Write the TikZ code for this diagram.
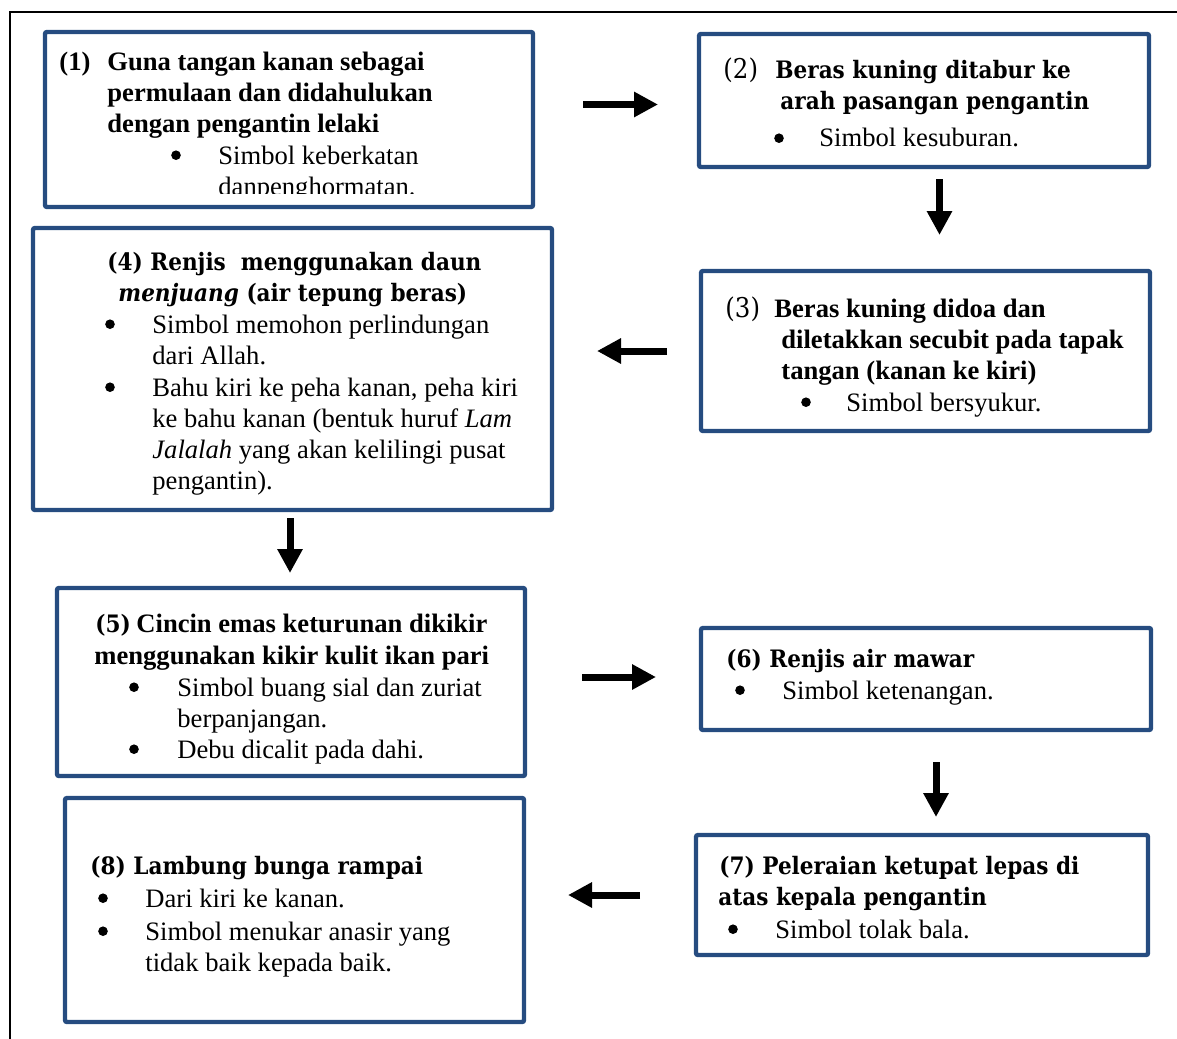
\documentclass[tikz,border=0pt]{standalone}
\usepackage{fontspec}
\setmainfont{Liberation Serif}
\newfontfamily\camb{DejaVu Serif Condensed}
\usetikzlibrary{arrows.meta,fit}
\definecolor{boxblue}{RGB}{38,76,128}
\begin{document}
\begin{tikzpicture}[x=0.5pt,y=-0.5pt,
 box/.style={draw=boxblue,line width=2.2pt,rounded corners=1pt,inner sep=0pt},
 tx/.style={anchor=base west,inner sep=0pt,font=\fontsize{13.3}{15}\selectfont},
 tb/.style={anchor=base west,inner sep=0pt,font=\fontsize{13.3}{15}\selectfont\bfseries},
 cb/.style={anchor=base west,inner sep=0pt,font=\fontsize{12}{15}\selectfont\camb\bfseries},
 cr/.style={anchor=base west,inner sep=0pt,font=\fontsize{13.6}{15}\selectfont\camb},
 bul/.style={circle,fill=black,inner sep=0pt,minimum size=4.8pt,yshift=4.4pt},
 arr/.style={line width=3.5pt,-{Triangle[length=12pt,width=12pt]}},
 frame/.style={line width=1pt}]
\useasboundingbox (0,0) rectangle (1177,1038);
% outer frame
\coordinate (fa) at (10,1040);
\coordinate (fb) at (10,12);
\coordinate (fc) at (1180,12);
\draw[frame] (fa) -- (fb) -- (fc);
% boxes
\node[box,fit={(45,32) (533,207)}] (b1) {};
\node[box,fit={(699,34) (1149,167)}] (b2) {};
\node[box,fit={(701,271) (1150,431)}] (b3) {};
\node[box,fit={(33,228) (552,510)}] (b4) {};
\node[box,fit={(57,588) (525,776)}] (b5) {};
\node[box,fit={(701,628) (1151,730)}] (b6) {};
\node[box,fit={(696,835) (1148,955)}] (b7) {};
\node[box,fit={(65,798) (524,1022)}] (b8) {};
% box 1 text
\begin{scope}
\clip (45,32) rectangle (533,193.5);
\node[tb] (t1n) at (59,71) {(1)};
\node[tb] (t1a) at (107,71) {Guna tangan kanan sebagai};
\node[tb] (t1b) at (107,102) {permulaan dan didahulukan};
\node[tb] (t1c) at (107,133) {dengan pengantin lelaki};
\node[bul] (t1d) at (176,164) {};
\node[tx] (t1e) at (218,164) {Simbol keberkatan};
\node[tx] (t1f) at (218,195) {danpenghormatan.};
\end{scope}
% box 2 text
\node[cr] (t2n) at (723,79) {(2)};
\node[cb] (t2a) at (775,79) {Beras kuning ditabur ke};
\node[cb] (t2b) at (780,110) {arah pasangan pengantin};
\node[bul] (t2c) at (779,147) {};
\node[tx] (t2d) at (819,147) {Simbol kesuburan.};
% box 3 text
\node[cr] (t3n) at (725,317) {(3)};
\node[tb] (t3a) at (774,317) {Beras kuning didoa dan};
\node[tb] (t3b) at (781,348) {diletakkan secubit pada tapak};
\node[tb] (t3c) at (781,379) {tangan (kanan ke kiri)};
\node[bul] (t3d) at (806,411) {};
\node[tx] (t3e) at (846,411) {Simbol bersyukur.};
% box 4 text
\node[cb] (t4a) at (107,270) {(4) Renjis\ \ menggunakan daun};
\node[cb] (t4b) at (118,301) {{\itshape menjuang} (air tepung beras)};
\node[bul] (t4c) at (110,333) {};
\node[tx] (t4d) at (152,333) {Simbol memohon perlindungan};
\node[tx] (t4e) at (152,364) {dari Allah.};
\node[bul] (t4f) at (110,396) {};
\node[tx] (t4g) at (152,396) {Bahu kiri ke peha kanan, peha kiri};
\node[tx] (t4h) at (152,427) {ke bahu kanan (bentuk huruf \textit{Lam}};
\node[tx] (t4i) at (152,458) {\textit{Jalalah} yang akan kelilingi pusat};
\node[tx] (t4j) at (152,489) {pengantin).};
% box 5 text
\node[cb] (t5n) at (95,632) {(5)};
\node[tb] (t5a) at (136,632) {Cincin emas keturunan dikikir};
\node[tb] (t5b) at (94,664) {menggunakan kikir kulit ikan pari};
\node[bul] (t5c) at (134,696) {};
\node[tx] (t5d) at (177,696) {Simbol buang sial dan zuriat};
\node[tx] (t5e) at (177,727) {berpanjangan.};
\node[bul] (t5f) at (134,758) {};
\node[tx] (t5g) at (177,758) {Debu dicalit pada dahi.};
% box 6 text
\node[cb] (t6a) at (726,667) {(6) Renjis air mawar};
\node[bul] (t6b) at (740,699) {};
\node[tx] (t6c) at (782,699) {Simbol ketenangan.};
% box 7 text
\node[cb] (t7a) at (719,874) {(7) Peleraian ketupat lepas di};
\node[cb] (t7b) at (718,905) {atas kepala pengantin};
\node[bul] (t7c) at (733,938) {};
\node[tx] (t7d) at (775,938) {Simbol tolak bala.};
% box 8 text
\node[cb] (t8a) at (90,874) {(8) Lambung bunga rampai};
\node[bul] (t8b) at (103,907) {};
\node[tx] (t8c) at (145,907) {Dari kiri ke kanan.};
\node[bul] (t8d) at (103,940) {};
\node[tx] (t8e) at (145,940) {Simbol menukar anasir yang};
\node[tx] (t8f) at (145,971) {tidak baik kepada baik.};
% arrows
\coordinate (a1s) at (583,104.5); \coordinate (a1e) at (658,104.5);
\coordinate (a2s) at (939.5,179); \coordinate (a2e) at (939.5,235);
\coordinate (a3s) at (667,351); \coordinate (a3e) at (597,351);
\coordinate (a4s) at (290,518); \coordinate (a4e) at (290,573);
\coordinate (a5s) at (582,677); \coordinate (a5e) at (656,677);
\coordinate (a6s) at (936,762); \coordinate (a6e) at (936,817);
\coordinate (a7s) at (640,895); \coordinate (a7e) at (568,895);
\draw[arr] (a1s) -- (a1e);
\draw[arr] (a2s) -- (a2e);
\draw[arr] (a3s) -- (a3e);
\draw[arr] (a4s) -- (a4e);
\draw[arr] (a5s) -- (a5e);
\draw[arr] (a6s) -- (a6e);
\draw[arr] (a7s) -- (a7e);
\end{tikzpicture}
\end{document}
